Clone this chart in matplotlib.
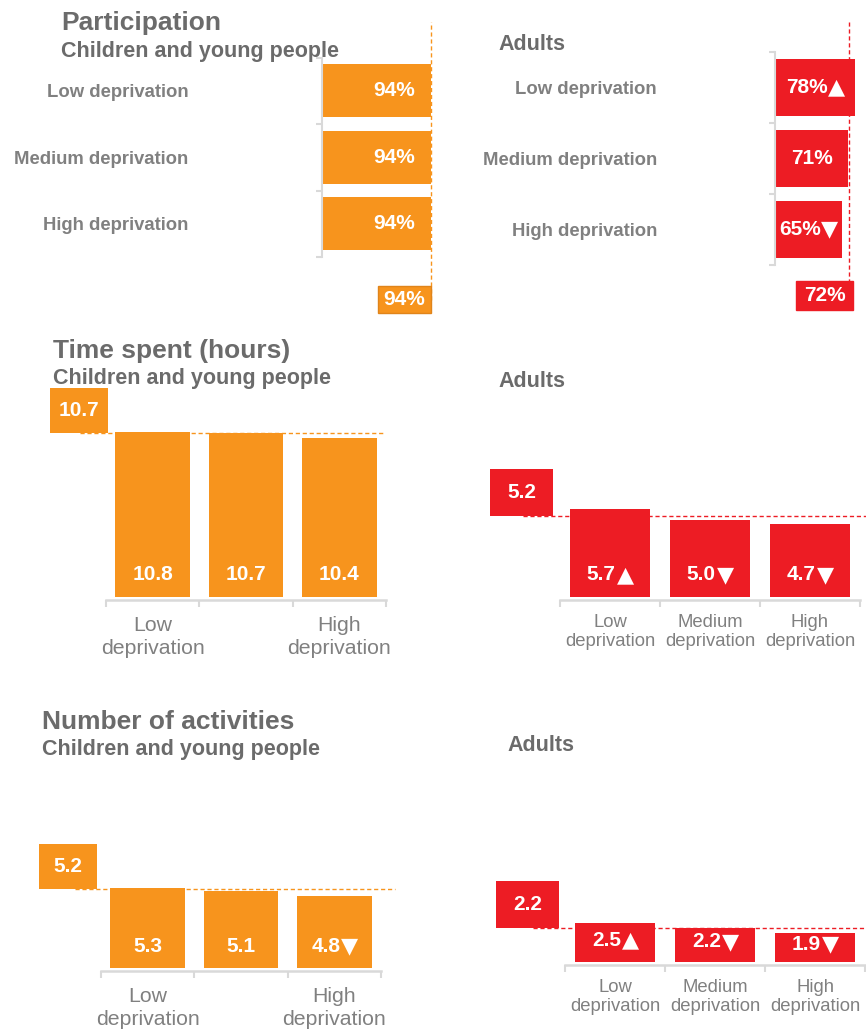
import numpy as np
import matplotlib
matplotlib.use("Agg")
import matplotlib.pyplot as plt
from matplotlib.patches import Rectangle
from matplotlib.transforms import blended_transform_factory

plt.rcParams['font.family'] = ['Liberation Sans', 'DejaVu Sans']

# data
categories = ["Low deprivation", "Medium deprivation", "High deprivation"]
short_child = ["Low\ndeprivation", "", "High\ndeprivation"]
short_adult = ["Low\ndeprivation", "Medium\ndeprivation", "High\ndeprivation"]

part_child = [94, 94, 94]
part_child_avg = 94
part_child_marks = ["", "", ""]
part_adult = [78, 71, 65]
part_adult_avg = 72
part_adult_marks = ["▲", "", "▼"]

time_child = [10.8, 10.7, 10.4]
time_child_avg = 10.7
time_child_marks = ["", "", ""]
time_adult = [5.7, 5.0, 4.7]
time_adult_avg = 5.2
time_adult_marks = ["▲", "▼", "▼"]

act_child = [5.3, 5.1, 4.8]
act_child_avg = 5.2
act_child_marks = ["", "", "▼"]
act_adult = [2.5, 2.2, 1.9]
act_adult_avg = 2.2
act_adult_marks = ["▲", "▼", "▼"]

ORANGE = "#F7941D"
RED = "#ED1C24"
TITLE_GREY = "#6B6B6B"
LABEL_GREY = "#808080"
AXIS_GREY = "#D9D9D9"

W, H = 866, 1030
fig = plt.figure(figsize=(W / 100, H / 100), dpi=100)


def px_axes(left, top, width, height):
    return fig.add_axes([left / W, 1 - (top + height) / H, width / W, height / H])


def heading(x, y, text, size):
    fig.text(x / W, 1 - y / H, text, fontsize=size, fontweight="bold",
             color=TITLE_GREY, va="baseline", ha="left")


def value_label(ax, x, y, num, mark, ha):
    # number in the main font, arrow glyph (bigger, DejaVu) glued on its right
    tri_w = 12.5 if mark else 0
    dx = -tri_w / 2 if ha == "center" else -tri_w
    t = ax.annotate(num, (x, y), xytext=(dx, 0), textcoords="offset points",
                    ha=ha, va="center", color="white", fontsize=15,
                    fontweight="bold", zorder=3)
    if mark:
        ax.annotate(mark, xy=(1, 0.19), xycoords=t, xytext=(0.5, 0),
                    textcoords="offset points", ha="left", va="baseline",
                    color="white", fontsize=16, family="DejaVu Sans", zorder=3)


def hbar_panel(left, top, width, height, xmax, values, avg, marks, color,
               label_pad, value_ha, box, line_span, box_edge=None):
    ax = px_axes(left, top, width, height)
    px_per_unit = width / xmax
    y = np.arange(len(values))
    ax.barh(y, values, height=0.8, color=color, zorder=2)
    ax.set_xlim(0, xmax)
    ax.set_ylim(len(values) - 0.5, -0.5)
    for s in ["top", "right", "bottom"]:
        ax.spines[s].set_visible(False)
    ax.spines["left"].set_color(AXIS_GREY)
    ax.spines["left"].set_linewidth(1.5)
    ax.set_xticks([])
    ax.set_yticks(y)
    ax.set_yticklabels(categories, fontsize=13.3, fontweight="bold", color=LABEL_GREY)
    ax.set_yticks(np.arange(len(values) + 1) - 0.5, minor=True)
    ax.tick_params(axis="y", which="major", length=0, pad=label_pad)
    ax.tick_params(axis="y", which="minor", length=4, width=1.5, color=AXIS_GREY)
    for i, (v, m) in enumerate(zip(values, marks)):
        if value_ha == "right":
            xt = v - 16 / px_per_unit
        else:
            xt = v / 2
        value_label(ax, xt, i, f"{v}%", m, value_ha)
    ax.axvline(avg, ymin=line_span[0], ymax=line_span[1], color=color,
               ls=(0, (3, 2)), lw=1, clip_on=False, zorder=1)
    trans = blended_transform_factory(ax.transData, ax.transAxes)
    bw, shift, yf0, hf = box
    bx = avg + shift / px_per_unit - bw / px_per_unit
    ax.add_patch(Rectangle((bx, yf0), bw / px_per_unit, hf, transform=trans,
                           facecolor=color, edgecolor=box_edge or color, lw=1,
                           clip_on=False, zorder=4))
    ax.text(bx + bw / px_per_unit / 2, yf0 + hf / 2, f"{avg}%", transform=trans,
            ha="center", va="center", color="white", fontsize=15,
            fontweight="bold", zorder=5)
    return ax


def vbar_panel(left, width, baseline, scale, ymax, values, avg, marks, color,
               ticklabels, tick_size, tick_pad, spacing, box, line_span):
    ylo = -3 / scale
    top = baseline - ymax * scale
    height = (ymax - ylo) * scale
    ax = px_axes(left, top, width, height)
    x = np.arange(len(values))
    ax.bar(x, values, width=0.8, color=color, zorder=2)
    ax.set_xlim(-0.5, len(values) - 0.5)
    ax.set_ylim(ylo, ymax)
    for s in ["top", "right", "left"]:
        ax.spines[s].set_visible(False)
    ax.spines["bottom"].set_color(AXIS_GREY)
    ax.spines["bottom"].set_linewidth(1.8)
    ax.set_yticks([])
    ax.set_xticks(x)
    ax.set_xticklabels(ticklabels, fontsize=tick_size, color=LABEL_GREY,
                       linespacing=spacing)
    ax.set_xticks(np.arange(len(values) + 1) - 0.5, minor=True)
    ax.tick_params(axis="x", which="major", length=0, pad=tick_pad)
    ax.tick_params(axis="x", which="minor", length=5, width=1.5, color=AXIS_GREY)
    for i, (v, m) in enumerate(zip(values, marks)):
        yt = min(22 / scale, v / 2 + 3 / scale)
        value_label(ax, i, yt, f"{v:.1f}", m, "center")
    trans = blended_transform_factory(ax.transAxes, ax.transData)
    ax.plot(line_span, [avg, avg], transform=trans, color=color,
            ls=(0, (3, 2)), lw=1, clip_on=False, zorder=1)
    bx0, bw, bh = box
    xf0 = (bx0 - left) / width
    wf = bw / width
    ax.add_patch(Rectangle((xf0, avg), wf, bh / scale, transform=trans,
                           facecolor=color, edgecolor="none", clip_on=False,
                           zorder=4))
    ax.text(xf0 + wf / 2, avg + bh / scale / 2, f"{avg:.1f}", transform=trans,
            ha="center", va="center", color="white", fontsize=15,
            fontweight="bold", zorder=5)
    return ax


# Participation
heading(61, 30, "Participation", 19)
heading(61, 57, "Children and young people", 15.5)
heading(498, 50, "Adults", 15.5)

hbar_panel(322, 57.5, 116, 199.5, 100, part_child, part_child_avg,
           part_child_marks, ORANGE, 96, "right",
           (53, 0, (257 - 313) / 199.5, 27 / 199.5),
           ((257 - 300) / 199.5, (257 - 22) / 199.5), box_edge="#E0841A")

hbar_panel(775, 52, 87.55, 213, 85, part_adult, part_adult_avg,
           part_adult_marks, RED, 85, "center",
           (57, 4, (265 - 310) / 213, 29 / 213),
           ((265 - 290) / 213, (265 - 22) / 213))

# Time spent
heading(53, 358, "Time spent (hours)", 19)
heading(53, 384, "Children and young people", 15.5)
heading(498, 387, "Adults", 15.5)

vbar_panel(106, 280, 597, 15.3, 12, time_child, time_child_avg,
           time_child_marks, ORANGE, short_child, 15.3, 11.5, 1.27,
           (50, 58, 45), ((80 - 106) / 280, (383 - 106) / 280))

vbar_panel(560, 300, 597, 15.5, 6.5, time_adult, time_adult_avg,
           time_adult_marks, RED, short_adult, 13.3, 10, 1.18,
           (490, 63, 47), ((523 - 560) / 300, (866 - 560) / 300))

# Number of activities
heading(42, 729, "Number of activities", 19)
heading(42, 755, "Children and young people", 15.5)
heading(507, 751, "Adults", 15.5)

vbar_panel(101, 280, 968, 15.1, 6, act_child, act_child_avg,
           act_child_marks, ORANGE, short_child, 15.3, 11.5, 1.27,
           (39, 58, 45), ((75 - 101) / 280, (395 - 101) / 280))

vbar_panel(565, 300, 962, 15.5, 3, act_adult, act_adult_avg,
           act_adult_marks, RED, short_adult, 13.3, 10, 1.18,
           (496, 63, 47), ((533 - 565) / 300, (866 - 565) / 300))

fig.savefig("out.png", dpi=100)
